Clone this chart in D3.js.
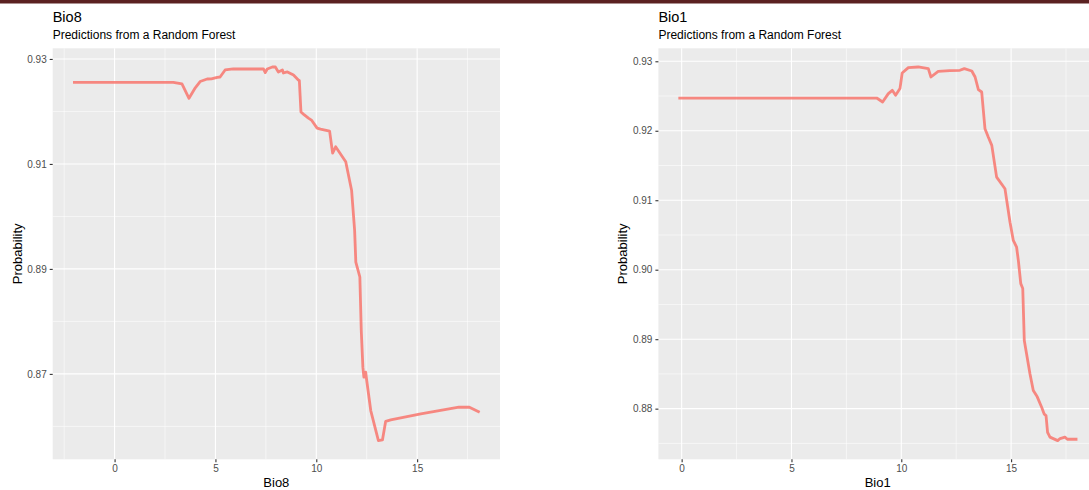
<!DOCTYPE html>
<html>
<head>
<meta charset="utf-8">
<script src="https://cdn.jsdelivr.net/npm/d3@7"></script>
<style>
  body { margin: 0; background: #fff; }
  svg { display: block; font-family: "Liberation Sans", Arial, sans-serif; }
</style>
</head>
<body>
<svg id="chart"></svg>
<script>
// DATA

const bio8X = [-2.06, 2.91, 3.34, 3.69, 4.0, 4.24, 4.59, 4.8, 5.09, 5.23, 5.48, 5.88, 7.38, 7.47, 7.57, 7.82, 7.97,
  8.12, 8.32, 8.37, 8.57, 8.87, 9.11, 9.16, 9.24, 9.36, 9.61, 9.76, 10.04, 10.21, 10.66, 10.81, 10.96,
  11.46, 11.75, 11.9, 11.96, 12.16, 12.23, 12.31, 12.36, 12.45, 12.5, 12.7, 13.08, 13.28, 13.44, 13.69,
  15.18, 17.07, 17.59, 18.1];
const bio8Y = [0.92555, 0.92555, 0.92523, 0.9225, 0.9245, 0.9257, 0.92618, 0.9262, 0.9265, 0.92656, 0.9279, 0.92809, 0.92809,
  0.92739, 0.92809, 0.92847, 0.92847, 0.92752, 0.9279, 0.92733, 0.92752, 0.92695, 0.926, 0.9259, 0.91989,
  0.9195, 0.91874, 0.91836, 0.91683, 0.91664, 0.91626, 0.91206, 0.91326, 0.9104, 0.905, 0.8974, 0.8913,
  0.88846, 0.87828, 0.87128, 0.86937, 0.87033, 0.86874, 0.86302, 0.85729, 0.85742, 0.86097, 0.86124,
  0.86238, 0.86365, 0.86365, 0.86269];

const bio1X = [-0.15, 8.88, 9.15, 9.41, 9.59, 9.74, 9.94, 10.04, 10.32, 10.77, 11.23, 11.35, 11.68, 12.21,
  12.67, 12.87, 13.21, 13.36, 13.51, 13.66, 13.81, 13.96, 14.12, 14.34, 14.72, 14.95, 15.1, 15.25, 15.33,
  15.44, 15.53, 15.6, 15.86, 16.01, 16.19, 16.39, 16.51, 16.59, 16.66, 16.77, 17.12, 17.23, 17.45, 17.56, 18.02];
const bio1Y = [0.92471, 0.92471, 0.92414, 0.92535, 0.92582, 0.9251, 0.92607, 0.92831, 0.92909, 0.92918,
  0.92895, 0.92774, 0.92856, 0.92866, 0.9287, 0.92895, 0.9286, 0.92774, 0.92592, 0.92558, 0.9203, 0.9191,
  0.9179, 0.91333, 0.91166, 0.90684, 0.90421, 0.90324, 0.9013, 0.898, 0.8973, 0.8898, 0.885, 0.8826,
  0.8817, 0.8802, 0.8792, 0.879, 0.8766, 0.8759, 0.8754, 0.8757, 0.8759, 0.8756, 0.8756];

const xTicks = [0, 5, 10, 15];
const xMinor = [-2.5, 2.5, 7.5, 12.5, 17.5];
const bio8YTicks = [0.87, 0.89, 0.91, 0.93];
const bio8YMinor = [0.86, 0.88, 0.90, 0.92];
const bio1YTicks = [0.88, 0.89, 0.90, 0.91, 0.92, 0.93];
const bio1YMinor = [0.875, 0.885, 0.895, 0.905, 0.915, 0.925];

const titles = ["Bio8", "Bio1"];
const subtitle = "Predictions from a Random Forest";
const yTitle = "Probability";

// LAYOUT

const width = 1089;
const height = 490;

const svg = d3.select("#chart")
  .attr("width", width)
  .attr("height", height);

svg.append("rect")
  .attr("x", 0).attr("y", 0)
  .attr("width", width).attr("height", 3.5)
  .attr("fill", "#5b2222");

const panels = [
  { left: 52.7, right: 500, top: 48.3, bottom: 459.3, xs: bio8X, ys: bio8Y,
    yTicks: bio8YTicks, yMinor: bio8YMinor, title: titles[0], yTitleX: 17 },
  { left: 658.4, right: 1097.4, top: 48.3, bottom: 459.3, xs: bio1X, ys: bio1Y,
    yTicks: bio1YTicks, yMinor: bio1YMinor, title: titles[1], yTitleX: 622 }
];

// ggplot style 5% expansion
function expand(ext) {
  const pad = (ext[1] - ext[0]) * 0.05;
  return [ext[0] - pad, ext[1] + pad];
}

panels.forEach(p => {

  const x = d3.scaleLinear()
    .domain(expand(d3.extent(p.xs)))
    .range([p.left, p.right]);

  const y = d3.scaleLinear()
    .domain(expand(d3.extent(p.ys)))
    .range([p.bottom, p.top]);

  const g = svg.append("g");

  // background
  g.append("rect")
    .attr("x", p.left).attr("y", p.top)
    .attr("width", p.right - p.left)
    .attr("height", p.bottom - p.top)
    .attr("fill", "#ebebeb");

  // minor grid
  g.selectAll(".vminor")
    .data(xMinor.filter(d => d >= x.domain()[0] && d <= x.domain()[1]))
    .enter().append("line")
    .attr("x1", d => x(d)).attr("x2", d => x(d))
    .attr("y1", p.top).attr("y2", p.bottom)
    .attr("stroke", "#fff").attr("stroke-width", 0.55);

  g.selectAll(".hminor")
    .data(p.yMinor.filter(d => d >= y.domain()[0] && d <= y.domain()[1]))
    .enter().append("line")
    .attr("x1", p.left).attr("x2", p.right)
    .attr("y1", d => y(d)).attr("y2", d => y(d))
    .attr("stroke", "#fff").attr("stroke-width", 0.55);

  // major grid
  g.selectAll(".vmajor")
    .data(xTicks)
    .enter().append("line")
    .attr("x1", d => x(d)).attr("x2", d => x(d))
    .attr("y1", p.top).attr("y2", p.bottom)
    .attr("stroke", "#fff").attr("stroke-width", 1.1);

  g.selectAll(".hmajor")
    .data(p.yTicks)
    .enter().append("line")
    .attr("x1", p.left).attr("x2", p.right)
    .attr("y1", d => y(d)).attr("y2", d => y(d))
    .attr("stroke", "#fff").attr("stroke-width", 1.1);

  // axes
  const xAxis = g.append("g")
    .attr("transform", `translate(0,${p.bottom})`)
    .call(d3.axisBottom(x).tickValues(xTicks).tickSize(3).tickPadding(3).tickFormat(d3.format("d")));

  const yAxis = g.append("g")
    .attr("transform", `translate(${p.left},0)`)
    .call(d3.axisLeft(y).tickValues(p.yTicks).tickSize(3).tickPadding(3).tickFormat(d3.format(".2f")));

  [xAxis, yAxis].forEach(a => {
    a.select(".domain").remove();
    a.selectAll(".tick line").attr("stroke", "#333").attr("stroke-width", 1.1);
    a.selectAll(".tick text")
      .attr("fill", "#4d4d4d")
      .attr("font-size", "10px")
      .attr("font-family", "Liberation Sans, Arial, sans-serif");
  });

  // curve
  const pts = p.xs.map((v, i) => [v, p.ys[i]]);

  g.append("path")
    .datum(pts)
    .attr("fill", "none")
    .attr("stroke", "#f8766d")
    .attr("stroke-width", 2.8)
    .attr("stroke-linejoin", "round")
    .attr("stroke-opacity", 0.85)
    .attr("d", d3.line().x(d => x(d[0])).y(d => y(d[1])));

  // titles
  g.append("text")
    .attr("x", p.left).attr("y", 21.7)
    .attr("font-size", "14.5px")
    .attr("fill", "#000")
    .text(p.title);

  g.append("text")
    .attr("x", p.left).attr("y", 39.3)
    .attr("font-size", "12px")
    .attr("fill", "#000")
    .text(subtitle);

  // axis titles
  g.append("text")
    .attr("x", (p.left + Math.min(p.right, width)) / 2 + (p.right > width ? 4 : 0))
    .attr("y", 487)
    .attr("text-anchor", "middle")
    .attr("font-size", "13px")
    .attr("fill", "#000")
    .text(p.title);

  g.append("text")
    .attr("transform", `translate(${p.yTitleX + 4.5},${(p.top + p.bottom) / 2}) rotate(-90)`)
    .attr("text-anchor", "middle")
    .attr("font-size", "13px")
    .attr("fill", "#000")
    .text(yTitle);

});
</script>
</body>
</html>
